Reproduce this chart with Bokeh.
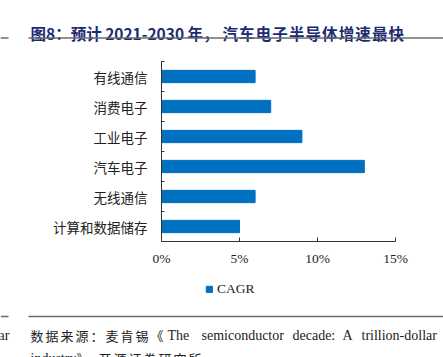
from bokeh.plotting import figure
from bokeh.models import FixedTicker, Legend, LegendItem, Range1d, ColumnDataSource
from bokeh.core.properties import value
from bokeh.embed import file_html
from bokeh.resources import INLINE

# ---- data ----
categories = ["计算和数据储存", "无线通信", "汽车电子", "工业电子", "消费电子", "有线通信"]
cagr = [5, 6, 13, 9, 7, 6]          # percent
x_ticks = [0, 5, 10, 15]
series_name = "CAGR"
title_part1 = "图8：预计 2021-2030 年，"
title_part2 = "汽车电子半导体增速最快"
source_cn = "数据来源：麦肯锡"
source_open = "《"
source_words = ["The", "semiconductor", "decade:", "A", "trillion-dollar"]
source_l2_word = "industry"
source_l2_punct = "》，"
source_l2_cn = "开源证券研究所"
left_fragment = "dollar"

W = 443
H_TITLE, H_MAIN, H_FOOT = 45, 225, 87
BLUE = "#0070C0"
CJK = "Noto Sans CJK SC"
SERIF = "Liberation Serif"
TXT = "#222222"
RULE = "#6b6b6b"
NAN = float("nan")


def blank_fig(h):
    f = figure(width=W, height=h, output_backend="svg", toolbar_location=None,
               x_range=Range1d(0, W), y_range=Range1d(h, 0),
               min_border=0, x_axis_location=None, y_axis_location=None)
    f.grid.visible = False
    f.outline_line_color = None
    return f


def spaced(fig, s, x0, pitch, y, font, size, color, style="normal"):
    fig.text(x=[x0 + pitch * i for i in range(len(s))], y=[y] * len(s), text=list(s),
             text_font=value(font), text_font_size=size, text_color=color,
             text_font_style=style, text_baseline="alphabetic")


# ---- title strip ----
TITLE_C = "#1C2A72"
t = blank_fig(H_TITLE)
t.text(x=[30], y=[32], text=[title_part1], text_font=value(CJK), text_font_style="bold",
       text_font_size="15.5px", text_color=TITLE_C, text_baseline="alphabetic")
spaced(t, title_part2, 222, 16.6, 32, CJK, "15.5px", TITLE_C, "bold")
t.segment(x0=[28, 0], y0=[37.5, 37.5], x1=[W, 8], y1=[37.5, 37.5],
          line_color=RULE, line_width=1.3)

# ---- main chart ----
ypos = [i + 0.5 for i in range(len(categories))]
src = ColumnDataSource(dict(y=ypos, v=cagr, cat=categories))

p = figure(width=W, height=H_MAIN, output_backend="svg", toolbar_location=None,
           x_range=Range1d(0, 15), y_range=Range1d(0, len(categories)),
           min_border_left=161, min_border_right=48, min_border_top=16,
           min_border_bottom=29)
p.outline_line_color = None
p.xgrid.visible = False
p.ygrid.visible = False

r = p.hbar(y="y", right="v", left=0, height=0.41, source=src, color=BLUE)

p.xaxis.ticker = FixedTicker(ticks=x_ticks, minor_ticks=[])
p.xaxis.major_label_overrides = {tk: f"{tk}%" for tk in x_ticks}
p.xaxis.major_tick_in = 4
p.xaxis.major_tick_out = 0
p.xaxis.axis_line_color = "#333333"
p.xaxis.major_tick_line_color = "#333333"
p.xaxis.major_label_text_font = SERIF
p.xaxis.major_label_text_font_size = "13.5px"
p.xaxis.major_label_text_color = TXT
p.xaxis.major_label_standoff = 9

p.yaxis.ticker = FixedTicker(ticks=ypos, minor_ticks=list(range(len(categories) + 1)))
p.yaxis.major_label_overrides = {y: c for y, c in zip(ypos, categories)}
p.yaxis.major_tick_in = 0
p.yaxis.major_tick_out = 0
p.yaxis.minor_tick_in = 3
p.yaxis.minor_tick_out = 0
p.yaxis.minor_tick_line_color = "#333333"
p.yaxis.axis_line_color = "#333333"
p.yaxis.major_label_text_font = CJK
p.yaxis.major_label_text_font_size = "13.5px"
p.yaxis.major_label_text_color = TXT
p.yaxis.major_label_standoff = 14

# ---- footer: legend, rule, source ----
f = blank_fig(H_FOOT)
lr = f.hbar(y=[NAN], right=[NAN], left=0, height=0.4, color=BLUE)
legend = Legend(items=[LegendItem(label=series_name, renderers=[lr])],
                location=(205, H_FOOT - 27), orientation="horizontal",
                border_line_color=None, background_fill_alpha=0,
                label_text_font=SERIF, label_text_font_size="13.5px", label_text_color=TXT,
                glyph_width=8, glyph_height=8, label_standoff=4, padding=0, margin=0,
                label_height=14)
f.add_layout(legend, "center")
f.segment(x0=[28, 0], y0=[46, 46], x1=[W, 8], y1=[46, 46], line_color=RULE, line_width=1.3)

spaced(f, source_cn, 30, 15, 65, CJK, "13px", TXT)
f.text(x=[150], y=[65], text=[source_open], text_font=value(CJK), text_font_size="13px",
       text_color=TXT, text_baseline="alphabetic")
word_x = [167, 201, 292, 342, 361]
f.text(x=word_x, y=[65] * len(source_words), text=source_words, text_font=value(SERIF),
       text_font_size="14px", text_color=TXT, text_baseline="alphabetic")
f.text(x=[30], y=[88], text=[source_l2_word], text_font=value(SERIF), text_font_size="14px",
       text_color=TXT, text_baseline="alphabetic")
f.text(x=[76], y=[88], text=[source_l2_punct], text_font=value(CJK), text_font_size="13px",
       text_color=TXT, text_baseline="alphabetic")
spaced(f, source_l2_cn, 98, 15, 88, CJK, "13px", TXT)
f.text(x=[9], y=[65], text=[left_fragment], text_font=value(SERIF), text_font_size="14px",
       text_color=TXT, text_baseline="alphabetic", text_align="right")

open("out.html", "w").write(file_html([t, p, f], INLINE))
